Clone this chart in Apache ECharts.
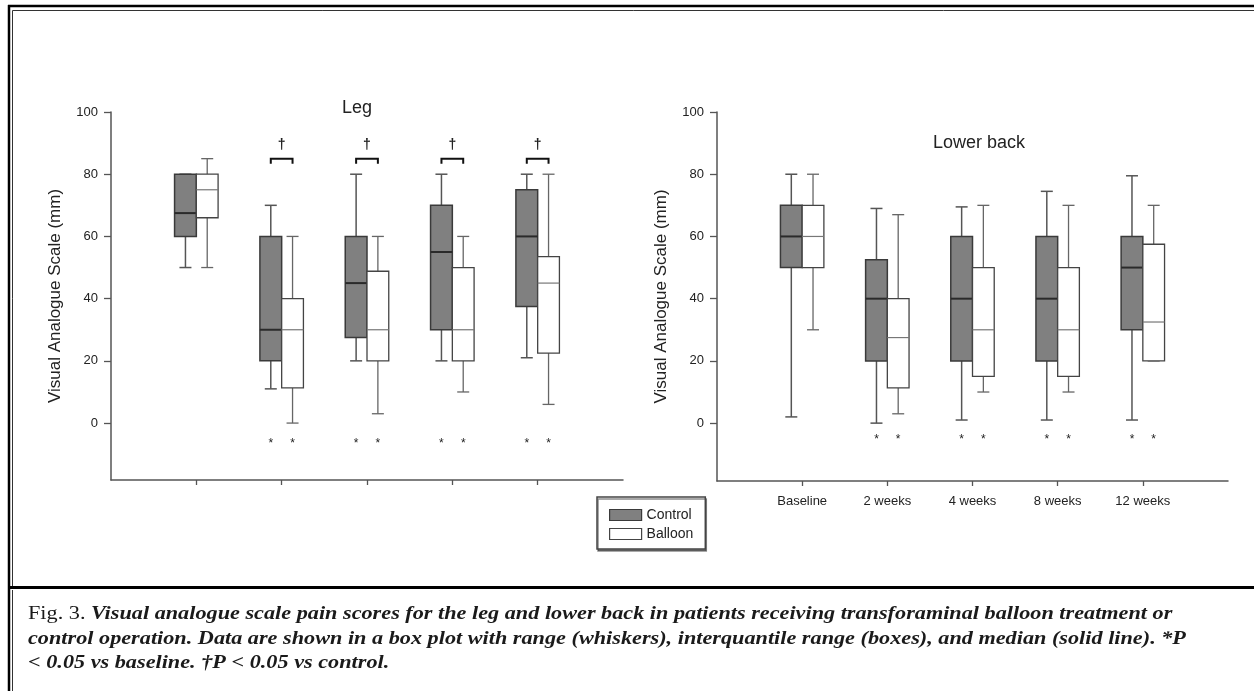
<!DOCTYPE html>
<html><head><meta charset="utf-8">
<script src="https://cdn.jsdelivr.net/npm/echarts@6/dist/echarts.min.js"></script>
<style>html,body{margin:0;padding:0;background:#fff}#c{width:1254px;height:691px}</style>
</head><body><div id="c"></div>
<script>
// ---------- data ----------
const categories = ['Baseline', '2 weeks', '4 weeks', '8 weeks', '12 weeks'];
const yTicks = [0, 20, 40, 60, 80, 100];
// each entry: [min, q1, median, q3, max]
const legControl  = [[50, 60, 67.5, 80, 80], [11, 20, 30, 60, 70], [20, 27.5, 45, 60, 80], [20, 30, 55, 70, 80], [21, 37.5, 60, 75, 80]];
const legBalloon  = [[50, 66, 75, 80, 85], [0, 11.3, 30, 40, 60], [3, 20, 30, 48.8, 60], [10, 20, 30, 50, 60], [6, 22.5, 45, 53.5, 80]];
const backControl = [[2, 50, 60, 70, 80], [0, 20, 40, 52.5, 69], [1, 20, 40, 60, 69.5], [1, 20, 40, 60, 74.5], [1, 30, 50, 60, 79.5]];
const backBalloon = [[30, 50, 60, 70, 80], [3, 11.3, 27.5, 40, 67], [10, 15, 30, 50, 70], [10, 15, 30, 50, 70], [20, 20, 32.5, 57.5, 70]];
// significance flags per category
const legVsBaseline  = [0, 1, 1, 1, 1];   // * P<0.05 vs baseline
const legVsControl   = [0, 1, 1, 1, 1];   // † P<0.05 vs control
const backVsBaseline = [0, 1, 1, 1, 1];
const backVsControl  = [0, 0, 0, 0, 0];
const captionLines = [
  ['Fig. 3. ', 'Visual analogue scale pain scores for the leg and lower back in patients receiving transforaminal balloon treatment or'],
  ['', 'control operation. Data are shown in a box plot with range (whiskers), interquantile range (boxes), and median (solid line). *P'],
  ['', '< 0.05 vs baseline. †P < 0.05 vs control.']
];

// ---------- styles ----------
const FONT = 'Liberation Sans, Arial, sans-serif';
const SERIF = 'Liberation Serif, Times New Roman, serif';
const BW = 0.255;          // box width in x-axis units
const CAP = 6;             // half width of whisker caps (px)
const AX = '#555';
const ctrlStyle = { fill: '#808080', stroke: '#3a3a3a', bw: 1.5, whisker: '#555', ww: 1.5, median: '#2a2a2a', mw: 2 };
const ballStyle = { fill: '#ffffff', stroke: '#444', bw: 1.3, whisker: '#666', ww: 1.3, median: '#777', mw: 1.2 };

function boxRender(side, st) {
  return function (params, api) {
    const x = api.value(0);
    const mn = api.value(1), q1 = api.value(2), md = api.value(3), q3 = api.value(4), mx = api.value(5);
    const x0 = side < 0 ? x - BW : x, x1 = side < 0 ? x : x + BW;
    const tl = api.coord([x0, q3]), br = api.coord([x1, q1]);
    const cx = (tl[0] + br[0]) / 2;
    const yMin = api.coord([x, mn])[1], yMax = api.coord([x, mx])[1], yMed = api.coord([x, md])[1];
    const ws = { stroke: st.whisker, lineWidth: st.ww };
    return {
      type: 'group',
      children: [
        { type: 'line', shape: { x1: cx, y1: tl[1], x2: cx, y2: yMax }, style: ws },
        { type: 'line', shape: { x1: cx - CAP, y1: yMax, x2: cx + CAP, y2: yMax }, style: ws },
        { type: 'line', shape: { x1: cx, y1: br[1], x2: cx, y2: yMin }, style: ws },
        { type: 'line', shape: { x1: cx - CAP, y1: yMin, x2: cx + CAP, y2: yMin }, style: ws },
        { type: 'rect', shape: { x: tl[0], y: tl[1], width: br[0] - tl[0], height: br[1] - tl[1] },
          style: { fill: st.fill, stroke: st.stroke, lineWidth: st.bw } },
        { type: 'line', shape: { x1: tl[0], y1: yMed, x2: br[0], y2: yMed }, style: { stroke: st.median, lineWidth: st.mw } }
      ]
    };
  };
}

function annotRender(starLevel, bracketLevel, daggerLevel) {
  return function (params, api) {
    const x = api.value(0), star = api.value(1), dag = api.value(2);
    const children = [];
    const a = x - BW / 2, b = x + BW / 2;
    if (star) {
      [a, b].forEach(function (xx) {
        const p = api.coord([xx, starLevel]);
        children.push({ type: 'text', style: { x: p[0], y: p[1] + 3, text: '*', fill: '#222',
          font: '12px ' + FONT, textAlign: 'center', textVerticalAlign: 'middle' } });
      });
    }
    if (dag) {
      const pa = api.coord([a, bracketLevel]), pb = api.coord([b, bracketLevel]);
      children.push({ type: 'polyline', shape: { points: [[pa[0], pa[1] + 5], [pa[0], pa[1]], [pb[0], pb[1]], [pb[0], pb[1] + 5]] },
        style: { stroke: '#111', lineWidth: 2, fill: null } });
      const pd = api.coord([x, daggerLevel]);
      children.push({ type: 'text', style: { x: pd[0], y: pd[1], text: '†', fill: '#222',
        font: 'bold 14px ' + FONT, textAlign: 'center', textVerticalAlign: 'middle' } });
    }
    return { type: 'group', children: children };
  };
}

const toBox = arr => arr.map((d, i) => [i + 1].concat(d));
const toAnn = (s, d) => s.map((v, i) => [i + 1, v, d[i]]);

function yAxis(gi) {
  return {
    gridIndex: gi, type: 'value', min: gi === 0 ? -18.3 : -18.6, max: 100,
    name: 'Visual Analogue Scale (mm)', nameLocation: 'middle', nameGap: 47,
    nameTextStyle: { fontSize: 17, color: '#222', fontFamily: FONT },
    axisLine: { show: true, lineStyle: { color: AX, width: 1.5 } },
    axisTick: { show: true, customValues: yTicks, length: 7, lineStyle: { color: AX, width: 1.3 } },
    axisLabel: { customValues: yTicks, fontSize: 13, color: '#222', margin: 13, fontFamily: FONT },
    splitLine: { show: false }
  };
}
function xAxis(gi, labels) {
  return {
    gridIndex: gi, type: 'value', min: 0, max: 6,
    axisLine: { show: true, onZero: false, lineStyle: { color: AX, width: 1.5 } },
    axisTick: { show: true, customValues: [1, 2, 3, 4, 5], length: 5, lineStyle: { color: AX, width: 1.3 } },
    axisLabel: labels ? { customValues: [1, 2, 3, 4, 5], formatter: v => categories[Math.round(v) - 1],
      fontSize: 13, color: '#222', margin: 14, fontFamily: FONT } : { show: false },
    splitLine: { show: false }
  };
}

const captionY = [614, 639, 663];
const captionGraphics = captionLines.map((ln, i) => ({
  type: 'text', x: 28, y: captionY[i], scaleX: 1.17, silent: true,
  style: {
    text: (ln[0] ? '{r|' + ln[0] + '}' : '') + '{i|' + ln[1] + '}',
    textVerticalAlign: 'middle',
    rich: { r: { font: '19px ' + SERIF, fill: '#1a1a1a' }, i: { font: 'italic bold 19px ' + SERIF, fill: '#1a1a1a' } }
  }
}));

const option = {
  animation: false,
  backgroundColor: '#fff',
  textStyle: { fontFamily: FONT },
  grid: [
    { left: 111, top: 112, width: 512, height: 368 },
    { left: 717, top: 112, width: 511, height: 369 }
  ],
  xAxis: [xAxis(0, false), xAxis(1, true)],
  yAxis: [yAxis(0), yAxis(1)],
  title: [
    { text: 'Leg', left: 357, top: 99, textAlign: 'center', padding: 0,
      textStyle: { fontSize: 18, fontWeight: 'normal', color: '#222', fontFamily: FONT } },
    { text: 'Lower back', left: 979, top: 134, textAlign: 'center', padding: 0,
      textStyle: { fontSize: 18, fontWeight: 'normal', color: '#222', fontFamily: FONT } }
  ],
  legend: {
    orient: 'vertical', left: 597, top: 497, padding: [11, 12, 8, 12],
    itemWidth: 32, itemHeight: 11, itemGap: 5,
    borderColor: '#444', borderWidth: 1.5,
    shadowColor: 'rgba(0,0,0,0.45)', shadowOffsetX: 1, shadowOffsetY: 2, shadowBlur: 0,
    backgroundColor: '#fff',
    textStyle: { fontSize: 14, color: '#222', fontFamily: FONT },
    data: [
      { name: 'Control', icon: 'rect', itemStyle: { color: '#808080', borderColor: '#3a3a3a', borderWidth: 1.2 } },
      { name: 'Balloon', icon: 'rect', itemStyle: { color: '#fff', borderColor: '#444', borderWidth: 1.2 } }
    ]
  },
  series: [
    { name: 'Control', type: 'custom', xAxisIndex: 0, yAxisIndex: 0, renderItem: boxRender(-1, ctrlStyle),
      itemStyle: { color: '#808080' }, encode: { x: 0, y: [1, 2, 3, 4, 5] }, data: toBox(legControl) },
    { name: 'Balloon', type: 'custom', xAxisIndex: 0, yAxisIndex: 0, renderItem: boxRender(1, ballStyle),
      itemStyle: { color: '#fff' }, encode: { x: 0, y: [1, 2, 3, 4, 5] }, data: toBox(legBalloon) },
    { name: 'Control', type: 'custom', xAxisIndex: 1, yAxisIndex: 1, renderItem: boxRender(-1, ctrlStyle),
      itemStyle: { color: '#808080' }, encode: { x: 0, y: [1, 2, 3, 4, 5] }, data: toBox(backControl) },
    { name: 'Balloon', type: 'custom', xAxisIndex: 1, yAxisIndex: 1, renderItem: boxRender(1, ballStyle),
      itemStyle: { color: '#fff' }, encode: { x: 0, y: [1, 2, 3, 4, 5] }, data: toBox(backBalloon) },
    { name: 'legSig', type: 'custom', xAxisIndex: 0, yAxisIndex: 0, renderItem: annotRender(-5.8, 85, 89.5),
      encode: { x: 0, y: 1 }, data: toAnn(legVsBaseline, legVsControl) },
    { name: 'backSig', type: 'custom', xAxisIndex: 1, yAxisIndex: 1, renderItem: annotRender(-4.5, 85, 89.5),
      encode: { x: 0, y: 1 }, data: toAnn(backVsBaseline, backVsControl) }
  ],
  graphic: [
    // frame
    { type: 'line', shape: { x1: 8, y1: 6, x2: 1254, y2: 6 }, style: { stroke: '#000', lineWidth: 2.5 }, silent: true },
    { type: 'line', shape: { x1: 9, y1: 5, x2: 9, y2: 691 }, style: { stroke: '#000', lineWidth: 2.5 }, silent: true },
    { type: 'line', shape: { x1: 12.5, y1: 10.5, x2: 1254, y2: 10.5 }, style: { stroke: '#333', lineWidth: 1 }, silent: true },
    { type: 'line', shape: { x1: 12.5, y1: 10.5, x2: 12.5, y2: 586 }, style: { stroke: '#333', lineWidth: 1 }, silent: true },
    { type: 'line', shape: { x1: 10, y1: 587.5, x2: 1254, y2: 587.5 }, style: { stroke: '#000', lineWidth: 3 }, silent: true },
    { type: 'line', shape: { x1: 12.5, y1: 590, x2: 12.5, y2: 691 }, style: { stroke: '#333', lineWidth: 1 }, silent: true }
  ].concat(captionGraphics)
};

const chart = echarts.init(document.getElementById('c'), null, { renderer: 'canvas' });
chart.setOption(option);
</script>
</body></html>
